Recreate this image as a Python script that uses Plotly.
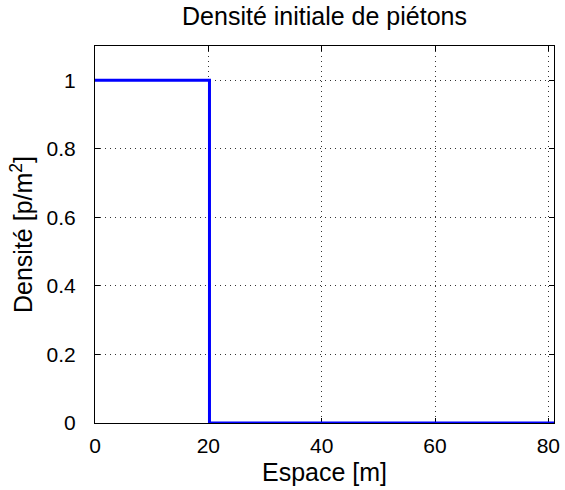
import plotly.graph_objects as go

# Data: initial pedestrian density (step profile)
x_space = [0, 20.2, 20.2, 81]
density = [1, 1, 0, 0]

x_ticks = [0, 20, 40, 60, 80]
y_ticks = [0, 0.2, 0.4, 0.6, 0.8, 1]

font_family = "Liberation Sans, Arial, Helvetica, sans-serif"

W, H = 565, 490

fig = go.Figure()
fig.add_trace(go.Scatter(
    x=x_space, y=density, mode="lines",
    line=dict(color="#0000FF", width=3),
    showlegend=False,
))

axis_common = dict(
    showline=True, linecolor="black", linewidth=1, mirror="ticks",
    ticks="inside", ticklen=5, tickwidth=1, tickcolor="black",
    showgrid=True, gridcolor="#333333", griddash="1px,4px", gridwidth=1,
    zeroline=False, layer="below traces", automargin=False,
    tickfont=dict(size=21, color="black", family=font_family),
)

fig.update_layout(
    width=W, height=H,
    margin=dict(l=95, r=11, t=46, b=67, autoexpand=False),
    paper_bgcolor="white", plot_bgcolor="white",
    font=dict(family=font_family, color="black"),
    title=dict(
        text="Densité initiale de piétons",
        x=(95 + 554) / 2 / W, xref="container", xanchor="center",
        y=1 - 16 / H, yref="container", yanchor="middle",
        font=dict(size=25, color="black", family=font_family),
    ),
    xaxis=dict(
        range=[0, 81], tickvals=x_ticks, ticklabelstandoff=4,
        title=dict(text="Espace [m]", font=dict(size=25, color="black"), standoff=7),
        **axis_common,
    ),
    yaxis=dict(
        range=[0, 1.1], tickvals=y_ticks, ticklabelstandoff=14,
        title=dict(text="Densité [p/m<sup>2</sup>]", font=dict(size=25, color="black"), standoff=6),
        **axis_common,
    ),
)

# remove the browser's default 8px body margin so the figure sits at the page origin
fig.write_html(
    "out.html",
    config={"displayModeBar": False},
    post_script="document.body.style.margin='0';",
)
